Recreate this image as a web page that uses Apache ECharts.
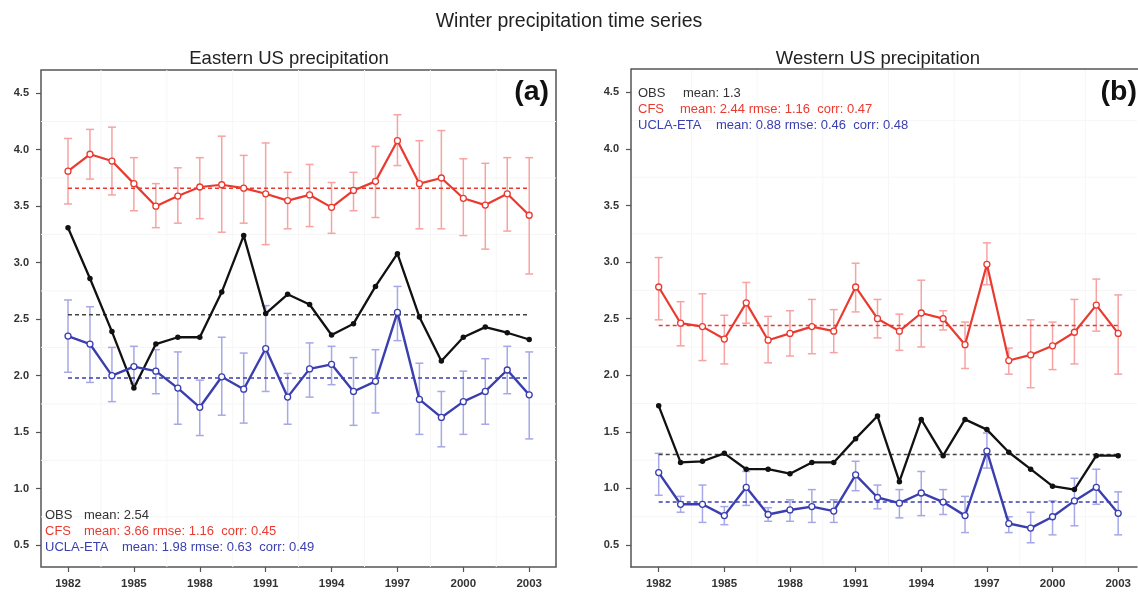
<!DOCTYPE html>
<html>
<head>
<meta charset="utf-8">
<script src="https://cdn.jsdelivr.net/npm/echarts@6/dist/echarts.min.js"></script>
<style>
  html, body { margin: 0; padding: 0; background: #fff; }
  #chart { width: 1138px; height: 594px; }
</style>
</head>
<body>
<div id="chart"></div>
<script>
// Winter precipitation, 1982-2003: observed vs CFS vs UCLA-ETA
const years = [1982, 1983, 1984, 1985, 1986, 1987, 1988, 1989, 1990, 1991, 1992,
               1993, 1994, 1995, 1996, 1997, 1998, 1999, 2000, 2001, 2002, 2003];
const xTickYears = [1982, 1985, 1988, 1991, 1994, 1997, 2000, 2003];
const yTicks = [0.5, 1.0, 1.5, 2.0, 2.5, 3.0, 3.5, 4.0, 4.5];

// Eastern US
const eastObs  = [3.31, 2.86, 2.39, 1.89, 2.28, 2.34, 2.34, 2.74, 3.24, 2.55, 2.72,
                  2.63, 2.36, 2.46, 2.79, 3.08, 2.52, 2.13, 2.34, 2.43, 2.38, 2.32];
const eastCfs  = [3.81, 3.96, 3.90, 3.70, 3.50, 3.59, 3.67, 3.69, 3.66, 3.61, 3.55,
                  3.60, 3.49, 3.64, 3.72, 4.08, 3.70, 3.75, 3.57, 3.51, 3.61, 3.42];
const eastCfsHi = [4.10, 4.18, 4.20, 3.93, 3.70, 3.84, 3.93, 4.12, 3.95, 4.06, 3.80,
                   3.87, 3.71, 3.80, 4.03, 4.31, 4.08, 4.17, 3.92, 3.88, 3.93, 3.93];
const eastCfsLo = [3.52, 3.74, 3.60, 3.46, 3.31, 3.35, 3.39, 3.27, 3.35, 3.16, 3.30,
                   3.32, 3.26, 3.46, 3.40, 3.86, 3.30, 3.30, 3.24, 3.12, 3.28, 2.90];
const eastEta  = [2.35, 2.28, 2.00, 2.08, 2.04, 1.89, 1.72, 1.99, 1.88, 2.24, 1.81,
                  2.06, 2.10, 1.86, 1.95, 2.56, 1.79, 1.63, 1.77, 1.86, 2.05, 1.83];
const eastEtaHi = [2.67, 2.61, 2.25, 2.26, 2.23, 2.21, 1.96, 2.34, 2.20, 2.62, 2.02,
                   2.29, 2.26, 2.16, 2.23, 2.79, 2.11, 1.86, 2.04, 2.15, 2.26, 2.21];
const eastEtaLo = [2.03, 1.94, 1.77, 1.93, 1.84, 1.57, 1.47, 1.65, 1.58, 1.86, 1.57,
                   1.81, 1.92, 1.56, 1.67, 2.31, 1.48, 1.37, 1.48, 1.57, 1.84, 1.44];
const eastMeans = { obs: 2.54, cfs: 3.66, eta: 1.98 };

// Western US
const westObs  = [1.73, 1.23, 1.24, 1.31, 1.17, 1.17, 1.13, 1.23, 1.23, 1.44, 1.64,
                  1.06, 1.61, 1.29, 1.61, 1.52, 1.32, 1.17, 1.02, 0.99, 1.29, 1.29];
const westCfs  = [2.78, 2.46, 2.43, 2.32, 2.64, 2.31, 2.37, 2.43, 2.39, 2.78, 2.50,
                  2.39, 2.55, 2.50, 2.27, 2.98, 2.13, 2.18, 2.26, 2.38, 2.62, 2.37];
const westCfsHi = [3.04, 2.65, 2.72, 2.53, 2.82, 2.52, 2.57, 2.67, 2.58, 2.99, 2.67,
                   2.54, 2.84, 2.57, 2.47, 3.17, 2.24, 2.49, 2.47, 2.67, 2.85, 2.71];
const westCfsLo = [2.49, 2.26, 2.13, 2.10, 2.46, 2.11, 2.17, 2.19, 2.20, 2.56, 2.33,
                   2.22, 2.25, 2.40, 2.06, 2.80, 2.01, 1.89, 2.05, 2.10, 2.39, 2.01];
const westEta  = [1.14, 0.86, 0.86, 0.76, 1.01, 0.77, 0.81, 0.84, 0.80, 1.12, 0.92,
                  0.87, 0.96, 0.88, 0.76, 1.33, 0.69, 0.65, 0.75, 0.89, 1.01, 0.78];
const westEtaHi = [1.31, 0.93, 1.03, 0.84, 1.15, 0.83, 0.90, 0.99, 0.90, 1.24, 1.03,
                   0.99, 1.15, 0.99, 0.93, 1.49, 0.75, 0.79, 0.89, 1.09, 1.17, 0.97];
const westEtaLo = [0.94, 0.79, 0.70, 0.68, 0.85, 0.71, 0.71, 0.70, 0.70, 0.98, 0.82,
                   0.74, 0.76, 0.77, 0.61, 1.18, 0.61, 0.52, 0.59, 0.67, 0.86, 0.59];
const westMeans = { obs: 1.30, cfs: 2.44, eta: 0.88 };

// Summary text lines for each panel
const eastStats = ['mean: 2.54', 'mean: 3.66 rmse: 1.16  corr: 0.45', 'mean: 1.98 rmse: 0.63  corr: 0.49'];
const westStats = ['mean: 1.3', 'mean: 2.44 rmse: 1.16  corr: 0.47', 'mean: 0.88 rmse: 0.46  corr: 0.48'];
const modelNames = ['OBS', 'CFS', 'UCLA-ETA'];

const RED = '#ea3a30', RED_ERR = '#f7a3a3';
const BLUE = '#3a3eae', BLUE_ERR = '#a6a8e8';
const BLACK = '#111111';
const FRAME = '#555555';
const FONT = 'Liberation Sans, Arial, sans-serif';

// axis ranges; the right panel's frame runs past the page edge, so its x range is cut short there
const Y_MIN = 0.306, Y_MAX = 4.706;
const X_RANGE = [[1980.77, 2004.22], [1980.734, 2003.86]];

const chart = echarts.init(document.getElementById('chart'), null, { renderer: 'canvas' });

const zip = (a) => years.map((y, i) => [y, a[i]]);
const zipErr = (lo, hi) => years.map((y, i) => [y, lo[i], hi[i]]);

function errorSeries(gi, lo, hi, color) {
  return {
    type: 'custom', xAxisIndex: gi, yAxisIndex: gi, z: 1, silent: true, clip: false,
    data: zipErr(lo, hi),
    renderItem: function (params, api) {
      const x = api.value(0);
      const a = api.coord([x, api.value(1)]);
      const b = api.coord([x, api.value(2)]);
      const w = 4;
      const st = { stroke: color, lineWidth: 1.5 };
      return {
        type: 'group',
        children: [
          { type: 'line', shape: { x1: a[0], y1: a[1], x2: b[0], y2: b[1] }, style: st },
          { type: 'line', shape: { x1: a[0] - w, y1: a[1], x2: a[0] + w, y2: a[1] }, style: st },
          { type: 'line', shape: { x1: b[0] - w, y1: b[1], x2: b[0] + w, y2: b[1] }, style: st }
        ]
      };
    }
  };
}

function meanLine(gi, value, color, dash) {
  return {
    type: 'line', xAxisIndex: gi, yAxisIndex: gi, z: 2, silent: true,
    data: [[years[0], value], [years[years.length - 1], value]],
    symbol: 'none',
    lineStyle: { color: color, width: 1.5, type: dash }
  };
}

function lineSeries(gi, vals, color, width, filled, z) {
  return {
    type: 'line', xAxisIndex: gi, yAxisIndex: gi, z: z, silent: true,
    data: zip(vals),
    symbol: 'circle', symbolSize: filled ? 5.5 : 6,
    itemStyle: { color: filled ? color : '#ffffff', borderColor: color, borderWidth: filled ? 0 : 1.3 },
    lineStyle: { color: color, width: width }
  };
}

// faint background grid
const gridX = [1983.5, 1986.5, 1989.5, 1992.5, 1995.5, 1998.5, 2001.5];
const gridY = [0.75, 1.25, 1.75, 2.25, 2.75, 3.25, 3.75, 4.25];
function faintGrid(gi) {
  const xr = X_RANGE[gi];
  return {
    type: 'custom', xAxisIndex: gi, yAxisIndex: gi, z: 0, silent: true,
    data: [0],
    renderItem: function (params, api) {
      const kids = [];
      const st = { stroke: '#f6f6f6', lineWidth: 1 };
      gridX.forEach(function (x) {
        const p0 = api.coord([x, Y_MIN]), p1 = api.coord([x, Y_MAX]);
        kids.push({ type: 'line', shape: { x1: p0[0], y1: p0[1], x2: p1[0], y2: p1[1] }, style: st });
      });
      gridY.forEach(function (y) {
        const p0 = api.coord([xr[0], y]), p1 = api.coord([xr[1], y]);
        kids.push({ type: 'line', shape: { x1: p0[0], y1: p0[1], x2: p1[0], y2: p1[1] }, style: st });
      });
      return { type: 'group', children: kids };
    }
  };
}

function panelSeries(gi, obs, cfs, cfsLo, cfsHi, eta, etaLo, etaHi, means) {
  return [
    faintGrid(gi),
    errorSeries(gi, cfsLo, cfsHi, RED_ERR),
    errorSeries(gi, etaLo, etaHi, BLUE_ERR),
    meanLine(gi, means.cfs, RED, [4, 3]),
    meanLine(gi, means.obs, '#444444', [4, 3]),
    meanLine(gi, means.eta, BLUE, [4, 3]),
    lineSeries(gi, obs, BLACK, 2.3, true, 5),
    lineSeries(gi, cfs, RED, 2.2, false, 6),
    lineSeries(gi, eta, BLUE, 2.4, false, 6)
  ];
}

function xAxis(gi, line) {
  return {
    type: 'value', gridIndex: gi, min: X_RANGE[gi][0], max: X_RANGE[gi][1],
    axisLine: { show: line, lineStyle: { color: FRAME, width: 1.5 } },
    axisTick: { show: true, customValues: xTickYears, length: 5, lineStyle: { color: FRAME, width: 1.2 } },
    splitLine: { show: false },
    axisLabel: {
      customValues: xTickYears, margin: 11,
      color: '#333', fontSize: 11.5, fontWeight: 'bold', fontFamily: FONT,
      formatter: function (v) { return String(v); }
    }
  };
}

function yAxis(gi, line) {
  return {
    type: 'value', gridIndex: gi, min: Y_MIN, max: Y_MAX,
    axisLine: { show: line, lineStyle: { color: FRAME, width: 1.5 } },
    axisTick: { show: true, customValues: yTicks, length: 5, lineStyle: { color: FRAME, width: 1.2 } },
    splitLine: { show: false },
    axisLabel: {
      customValues: yTicks, margin: 12,
      color: '#333', fontSize: 11, fontWeight: 'bold', fontFamily: FONT,
      formatter: function (v) { return v.toFixed(1); }
    }
  };
}

function statsText(x, y, stats, gap) {
  const colors = ['#333333', RED, BLUE];
  const els = [];
  for (let i = 0; i < 3; i++) {
    els.push({
      type: 'text', left: x, top: y + i * 15.8, z: 100,
      style: { text: modelNames[i], fill: colors[i], fontSize: 13, fontFamily: FONT }
    });
    els.push({
      type: 'text', left: x + gap[i], top: y + i * 15.8, z: 100,
      style: { text: stats[i], fill: colors[i], fontSize: 13, fontFamily: FONT }
    });
  }
  return els;
}

const option = {
  backgroundColor: '#ffffff',
  animation: false,
  title: [
    { text: 'Winter precipitation time series', left: 'center', top: 7,
      textStyle: { fontSize: 19.5, fontWeight: 'normal', color: '#222', fontFamily: FONT } },
    { text: 'Eastern US precipitation', left: 284, top: 44, textAlign: 'center',
      textStyle: { fontSize: 18.5, fontWeight: 'normal', color: '#222', fontFamily: FONT } },
    { text: 'Western US precipitation', left: 873, top: 44, textAlign: 'center',
      textStyle: { fontSize: 18.5, fontWeight: 'normal', color: '#222', fontFamily: FONT } }
  ],
  grid: [
    { left: 41, top: 70, width: 515, height: 497, show: true, borderColor: FRAME, borderWidth: 1.5, backgroundColor: 'transparent' },
    { left: 631, top: 69, width: 506, height: 498, show: false }
  ],
  xAxis: [xAxis(0, false), xAxis(1, true)],
  yAxis: [yAxis(0, false), yAxis(1, true)],
  series: [].concat(
    panelSeries(0, eastObs, eastCfs, eastCfsLo, eastCfsHi, eastEta, eastEtaLo, eastEtaHi, eastMeans),
    panelSeries(1, westObs, westCfs, westCfsLo, westCfsHi, westEta, westEtaLo, westEtaHi, westMeans)
  ),
  graphic: [].concat(
    [
      // top edge of the right panel frame, running off the page
      { type: 'line', z: 50, shape: { x1: 631, y1: 69, x2: 1138, y2: 69 },
        style: { stroke: FRAME, lineWidth: 1.5 } },
      { type: 'text', right: 1138 - 549, top: 78, z: 100,
        style: { text: '(a)', fill: '#111', fontSize: 28.5, fontWeight: 'bold', fontFamily: FONT } },
      { type: 'text', right: 1, top: 78, z: 100,
        style: { text: '(b)', fill: '#111', fontSize: 28.5, fontWeight: 'bold', fontFamily: FONT } }
    ],
    statsText(45, 509, eastStats, [39, 39, 77]),
    statsText(638, 87, westStats, [45, 42, 78])
  )
};

chart.setOption(option);
</script>
</body>
</html>
